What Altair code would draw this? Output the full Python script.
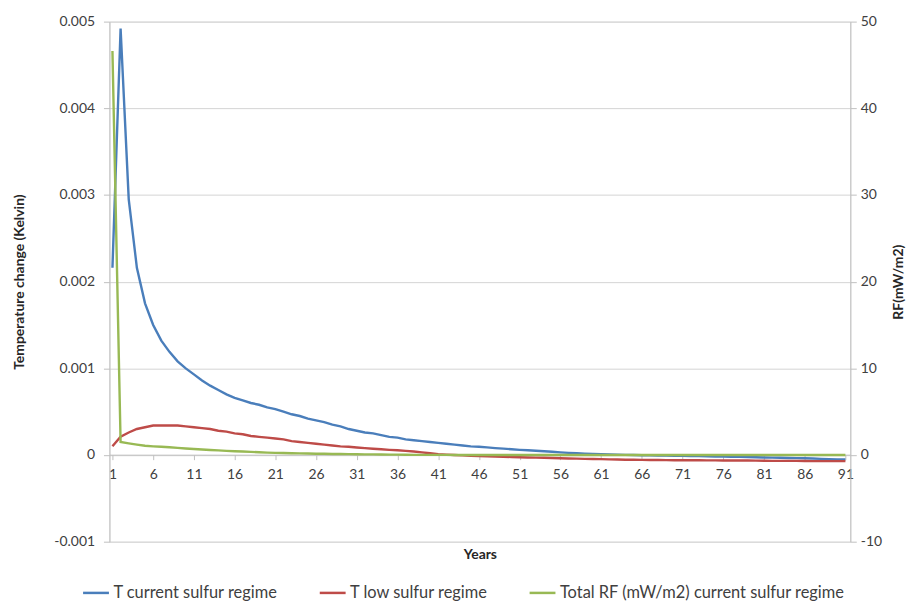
import altair as alt
import pandas as pd

years = list(range(1, 92))

t_current = [
    0.00216, 0.00492, 0.00295, 0.00216, 0.00175, 0.00150, 0.00132, 0.00119, 0.00108, 0.00100,
    0.00093, 0.00086, 0.00080, 0.00075, 0.00070, 0.00066, 0.00063, 0.00060, 0.00058, 0.00055,
    0.00053, 0.00050, 0.00047, 0.00045, 0.00042, 0.00040, 0.00038, 0.00035, 0.00033, 0.00030,
    0.00028, 0.00026, 0.00025, 0.00023, 0.00021, 0.00020, 0.00018, 0.00017, 0.00016, 0.00015,
    0.00014, 0.00013, 0.00012, 0.00011, 0.00010, 0.000095, 0.000088, 0.00008, 0.000074, 0.000066,
    0.00006, 0.000055, 0.00005, 0.000043, 0.000037, 0.00003, 0.000025, 0.00002, 0.000016, 0.000012,
    0.000009, 0.000006, 0.000004, 0.000002, 0.0, -0.000002, -0.000004, -0.000005, -0.000007, -0.000008,
    -0.00001, -0.000011, -0.000013, -0.000015, -0.000017, -0.000019, -0.00002, -0.000022, -0.000024, -0.000026,
    -0.000028, -0.00003, -0.000032, -0.000034, -0.000036, -0.000038, -0.00004, -0.000045, -0.000048, -0.00005,
    -0.00005,
]

t_low = [
    0.00010, 0.00021, 0.00026, 0.00030, 0.00032, 0.00034, 0.00034, 0.00034, 0.00034, 0.00033,
    0.00032, 0.00031, 0.00030, 0.00028, 0.00027, 0.00025, 0.00024, 0.00022, 0.00021, 0.00020,
    0.00019, 0.00018, 0.00016, 0.00015, 0.00014, 0.00013, 0.00012, 0.00011, 0.00010, 0.000095,
    0.000087, 0.00008, 0.000073, 0.000066, 0.00006, 0.000055, 0.000048, 0.00004, 0.00003, 0.00002,
    0.00001, 0.000005, 0.0, -0.000004, -0.000008, -0.000012, -0.000015, -0.000018, -0.00002, -0.000023,
    -0.000025, -0.000028, -0.00003, -0.000032, -0.000035, -0.000037, -0.00004, -0.000042, -0.000044, -0.000046,
    -0.000048, -0.00005, -0.000052, -0.000054, -0.000055, -0.000056, -0.000057, -0.000058, -0.000059, -0.00006,
    -0.00006, -0.000061, -0.000061, -0.000062, -0.000062, -0.000063, -0.000063, -0.000064, -0.000064, -0.000065,
    -0.000066, -0.000067, -0.000067, -0.000068, -0.000068, -0.000069, -0.00007, -0.00007, -0.00007, -0.00007,
    -0.00007,
]

rf_total = [
    46.6, 1.5, 1.35, 1.2, 1.07, 1.0, 0.95, 0.9, 0.82, 0.75,
    0.7, 0.64, 0.58, 0.53, 0.48, 0.44, 0.4, 0.36, 0.32, 0.28,
    0.25, 0.23, 0.21, 0.19, 0.17, 0.15, 0.14, 0.12, 0.11, 0.1,
    0.09, 0.08, 0.07, 0.06, 0.05, 0.04, 0.03, 0.02, 0.02, 0.01,
    0.01, 0.01, 0.0, 0.0, 0.0, 0.0, 0.0, 0.0, 0.0, 0.0,
    0.0, 0.0, 0.0, 0.0, 0.0, 0.0, 0.0, 0.0, 0.0, 0.0,
    0.0, 0.0, 0.0, 0.0, 0.0, 0.0, 0.0, 0.0, 0.0, 0.0,
    0.0, 0.0, 0.0, 0.0, 0.0, 0.0, 0.0, 0.0, 0.0, 0.0,
    0.0, 0.0, 0.0, 0.0, 0.0, 0.0, 0.0, 0.0, 0.0, 0.0,
    0.0,
]

series_names = [
    "T current sulfur regime",
    "T low sulfur regime",
    "Total RF (mW/m2) current sulfur regime",
]
series_colors = ["#4A7EBB", "#BE4B48", "#98B954"]

x_ticks = list(range(1, 92, 5))
left_ticks = [-0.001, 0, 0.001, 0.002, 0.003, 0.004, 0.005]
right_ticks = [-10, 0, 10, 20, 30, 40, 50]

FONT = "Lato"
LABEL_COLOR = "#404040"
GRID = "#D4D4D4"
AXIS = "#BFBFBF"

temp_df = pd.DataFrame({
    "year": years + years,
    "value": t_current + t_low,
    "series": [series_names[0]] * len(years) + [series_names[1]] * len(years),
})
rf_df = pd.DataFrame({
    "year": years,
    "value": rf_total,
    "series": [series_names[2]] * len(years),
})

legend = alt.Legend(
    orient="none", legendX=-28, legendY=560, direction="horizontal", title=None,
    symbolType="stroke", symbolSize=676, symbolStrokeWidth=2.5,
    labelFont=FONT, labelFontSize=16.5, labelColor="#404040", labelOffset=3,
    labelLimit=0, columnPadding=36,
)
color = alt.Color("series:N", scale=alt.Scale(domain=series_names, range=series_colors), legend=legend)

x_enc = alt.X(
    "year:Q",
    scale=alt.Scale(domain=[0.63, 91.6], nice=False, zero=False),
    axis=alt.Axis(
        values=x_ticks, title="Years", offset=-87.5, grid=False,
        domainColor=AXIS, tickColor=AXIS, tickSize=5, labelPadding=8,
        labelFont=FONT, labelFontSize=14, labelColor=LABEL_COLOR, labelFlush=False,
        titleFont=FONT, titleFontSize=14, titleFontWeight="bold", titleColor="#262626",
        titleY=93, titleBaseline="top",
    ),
)

temp = alt.Chart(temp_df).mark_line(strokeWidth=2.4).encode(
    x=x_enc,
    y=alt.Y(
        "value:Q",
        scale=alt.Scale(domain=[-0.001, 0.005], nice=False, zero=False),
        axis=alt.Axis(
            values=left_ticks, labelExpr="'' + datum.value",
            title="Temperature change (Kelvin)", grid=True, gridColor=GRID,
            domainColor=AXIS, tickColor=AXIS, tickSize=6, labelPadding=9,
            labelFont=FONT, labelFontSize=14, labelColor=LABEL_COLOR,
            titleFont=FONT, titleFontSize=14, titleFontWeight="bold", titleColor="#262626",
            titleX=-90, titleY=261.5, titleAngle=270, titleAlign="center", titleBaseline="middle",
        ),
    ),
    color=color,
)

rf = alt.Chart(rf_df).mark_line(strokeWidth=2.4).encode(
    x=x_enc,
    y=alt.Y(
        "value:Q",
        scale=alt.Scale(domain=[-10, 50], nice=False, zero=False),
        axis=alt.Axis(
            orient="right", values=right_ticks, labelExpr="'' + datum.value",
            title="RF(mW/m2)", grid=False,
            domainColor=AXIS, tickColor=AXIS, tickSize=6, labelPadding=4,
            labelFont=FONT, labelFontSize=14, labelColor=LABEL_COLOR,
            titleFont=FONT, titleFontSize=14, titleFontWeight="bold", titleColor="#262626",
            titleX=48, titleY=261.5, titleAngle=270, titleAlign="center", titleBaseline="middle",
        ),
    ),
    color=color,
)

chart = alt.layer(temp, rf).resolve_scale(y="independent").properties(
    width=745,
    height=523,
    padding={"left": 102, "top": 12, "right": 56, "bottom": 66},
    autosize=alt.AutoSizeParams(type="none"),
).configure_view(stroke=None).configure(background="white")

chart.save("out.html", embed_options={"renderer": "svg", "actions": False})
